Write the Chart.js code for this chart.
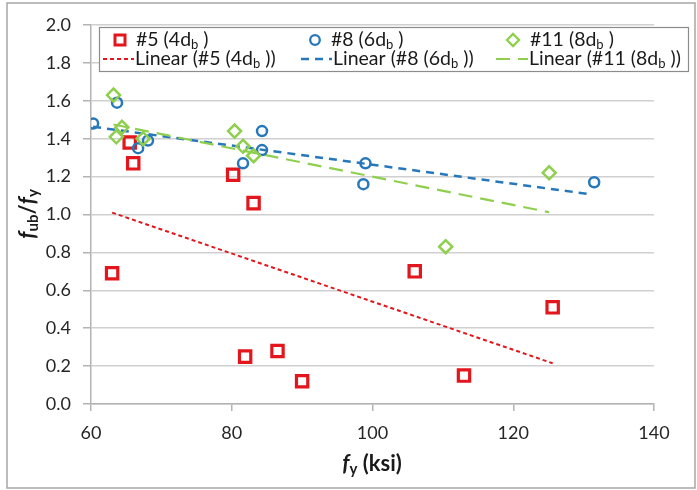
<!DOCTYPE html>
<html><head><meta charset="utf-8">
<script src="https://cdn.jsdelivr.net/npm/chart.js@4"></script>
<style>html,body{margin:0;padding:0;background:#fff;}</style>
</head><body>
<canvas id="c" width="697" height="490"></canvas>
<script>
// ---- data ----
const xTicks = [60, 80, 100, 120, 140];
const yTicks = [0.0, 0.2, 0.4, 0.6, 0.8, 1.0, 1.2, 1.4, 1.6, 1.8, 2.0];

const s5X = [63.0, 65.5, 66.0, 80.2, 83.1, 81.9, 86.5, 90.0, 106.0, 113.0, 125.6];
const s5Y = [0.69, 1.38, 1.27, 1.21, 1.06, 0.25, 0.28, 0.12, 0.70, 0.15, 0.51];

const s8X = [60.3, 63.7, 66.7, 68.1, 81.6, 84.3, 84.3, 99.0, 98.7, 131.5];
const s8Y = [1.48, 1.59, 1.35, 1.39, 1.27, 1.44, 1.34, 1.27, 1.16, 1.17];

const s11X = [63.2, 64.4, 63.6, 67.4, 80.4, 81.6, 83.1, 110.4, 125.1];
const s11Y = [1.63, 1.46, 1.41, 1.40, 1.44, 1.36, 1.31, 0.83, 1.22];

// trend line end points
const t5X = [63.0, 125.6];  const t5Y = [1.01, 0.215];
const t8X = [60.3, 130.9];  const t8Y = [1.463, 1.107];
const t11X = [63.2, 125.1]; const t11Y = [1.475, 1.012];

const seriesNames = ['#5 (4d', '#8 (6d', '#11 (8d'];

// ---- styles ----
const RED = '#e3161d', BLUE = '#2777bb', GREEN = '#8fcf4e';
const FONT = 'Lato, "Open Sans", sans-serif';

const pts = (xs, ys) => xs.map((x, i) => ({x: x, y: ys[i]}));

const datasets = [
  {label: 'Linear #5', data: pts(t5X, t5Y), showLine: true, pointRadius: 0, borderColor: RED, borderWidth: 2, borderDash: [4, 3], order: 6},
  {label: 'Linear #8', data: pts(t8X, t8Y), showLine: true, pointRadius: 0, borderColor: BLUE, borderWidth: 2.5, borderDash: [8, 6], order: 5},
  {label: 'Linear #11', data: pts(t11X, t11Y), showLine: true, pointRadius: 0, borderColor: GREEN, borderWidth: 2.2, borderDash: [14, 8], order: 4},
  {label: '#5', data: pts(s5X, s5Y), pointStyle: 'rect', pointRadius: 8, borderColor: RED, borderWidth: 3.2, backgroundColor: 'rgba(0,0,0,0)', showLine: false, order: 3},
  {label: '#8', data: pts(s8X, s8Y), pointStyle: 'circle', pointRadius: 5, borderColor: BLUE, borderWidth: 2.5, backgroundColor: 'rgba(0,0,0,0)', showLine: false, order: 2},
  {label: '#11', data: pts(s11X, s11Y), pointStyle: 'rectRot', pointRadius: 6.5, borderColor: GREEN, borderWidth: 2.5, backgroundColor: 'rgba(0,0,0,0)', showLine: false, order: 1},
];

function setFont(ctx, k, size, weight) {
  if (k === 's') ctx.font = `${weight} ${Math.round(size*0.66)}px ${FONT}`;
  else if (k === 'i') ctx.font = `italic ${weight} ${size}px ${FONT}`;
  else ctx.font = `${weight} ${size}px ${FONT}`;
}
function subText(ctx, x, y, parts, size, weight) {
  let cx = x;
  for (const [t, k] of parts) {
    setFont(ctx, k, size, weight);
    ctx.fillText(t, cx, k === 's' ? y + size*0.24 : y);
    cx += ctx.measureText(t).width;
  }
  return cx - x;
}
function measureParts(ctx, parts, size, weight) {
  let w = 0;
  for (const [t, k] of parts) { setFont(ctx, k, size, weight); w += ctx.measureText(t).width; }
  return w;
}

const decor = {
  id: 'decor',
  afterDraw(chart) {
    const ctx = chart.ctx;
    ctx.save();
    // outer border
    ctx.strokeStyle = '#a6a6a6';
    ctx.lineWidth = 1.5;
    ctx.strokeRect(7, 3, 688, 485);

    // legend box
    ctx.fillStyle = '#ffffff';
    ctx.fillRect(99, 27, 590, 44);
    ctx.strokeStyle = '#8c8c8c';
    ctx.lineWidth = 1.2;
    ctx.strokeRect(99.5, 27.5, 589, 44);

    const LS = 19.5;
    ctx.textBaseline = 'middle';
    ctx.fillStyle = '#1a1a1a';
    const cols = [{mx: 120, tx: 136, lx0: 103, lx1: 134, ltx: 135, c: RED, dash: [4, 3], lw: 2},
                  {mx: 315, tx: 331, lx0: 301, lx1: 332, ltx: 333, c: BLUE, dash: [8, 6], lw: 2.5},
                  {mx: 513, tx: 530, lx0: 496, lx1: 528, ltx: 529, c: GREEN, dash: [14, 8], lw: 2.2}];
    const r1 = 40, r2 = 59;
    cols.forEach((col, i) => {
      ctx.strokeStyle = col.c;
      ctx.setLineDash([]);
      if (i === 0) { ctx.lineWidth = 3; ctx.strokeRect(col.mx - 5, r1 - 5, 10, 10); }
      if (i === 1) { ctx.lineWidth = 2.3; ctx.beginPath(); ctx.arc(col.mx, r1, 4.8, 0, Math.PI*2); ctx.stroke(); }
      if (i === 2) { ctx.lineWidth = 2.3; ctx.beginPath(); ctx.moveTo(col.mx-6, r1); ctx.lineTo(col.mx, r1-6); ctx.lineTo(col.mx+6, r1); ctx.lineTo(col.mx, r1+6); ctx.closePath(); ctx.stroke(); }
      ctx.lineWidth = col.lw;
      ctx.setLineDash(col.dash);
      ctx.beginPath(); ctx.moveTo(col.lx0, r2); ctx.lineTo(col.lx1, r2); ctx.stroke();
      ctx.setLineDash([]);
      ctx.fillStyle = '#1a1a1a';
      subText(ctx, col.tx, r1, [[seriesNames[i], 'n'], ['b', 's'], [' )', 'n']], LS, 'normal');
      subText(ctx, col.ltx, r2, [['Linear (' + seriesNames[i], 'n'], ['b', 's'], [' ))', 'n']], LS, 'normal');
    });

    // x axis title
    const TS = 22;
    ctx.fillStyle = '#1a1a1a';
    ctx.textBaseline = 'middle';
    const xp = [['f', 'i'], ['y', 's'], [' (ksi)', 'n']];
    const xw = measureParts(ctx, xp, TS, 'bold');
    subText(ctx, 372 - xw/2, 464, xp, TS, 'bold');

    // y axis title (rotated)
    ctx.save();
    ctx.translate(28, 214);
    ctx.rotate(-Math.PI/2);
    const yp = [['f', 'i'], ['ub', 's'], ['/', 'n'], ['f', 'i'], ['y', 's']];
    const yw = measureParts(ctx, yp, TS, 'bold');
    subText(ctx, -yw/2, 0, yp, TS, 'bold');
    ctx.restore();

    ctx.restore();
  }
};

new Chart(document.getElementById('c'), {
  type: 'scatter',
  data: {datasets: datasets},
  options: {
    responsive: false,
    animation: false,
    devicePixelRatio: 1,
    layout: {padding: {left: 0, top: 25, right: 43, bottom: 0}},
    plugins: {legend: {display: false}, tooltip: {enabled: false}},
    scales: {
      x: {
        type: 'linear', min: xTicks[0], max: xTicks[xTicks.length-1],
        afterBuildTicks: (s) => { s.ticks = xTicks.map(v => ({value: v})); },
        afterFit: (s) => { s.height = 86; },
        grid: {drawOnChartArea: false, drawTicks: true, tickLength: 7, tickColor: '#b3b3b3', lineWidth: 1.5},
        border: {color: '#b3b3b3', width: 1.5},
        ticks: {font: {family: FONT, size: 18}, color: '#262626', padding: 11, callback: (v) => String(v)}
      },
      y: {
        type: 'linear', min: yTicks[0], max: yTicks[yTicks.length-1],
        afterBuildTicks: (s) => { s.ticks = yTicks.map(v => ({value: v})); },
        afterFit: (s) => { s.width = 91; },
        grid: {color: '#d0d0d0', lineWidth: 1.5, drawTicks: true, tickLength: 8, tickColor: '#b3b3b3'},
        border: {color: '#b3b3b3', width: 1.5},
        ticks: {font: {family: FONT, size: 18}, color: '#262626', padding: 12, callback: (v) => Number(v).toFixed(1)}
      }
    }
  },
  plugins: [decor]
});
</script>
</body></html>
